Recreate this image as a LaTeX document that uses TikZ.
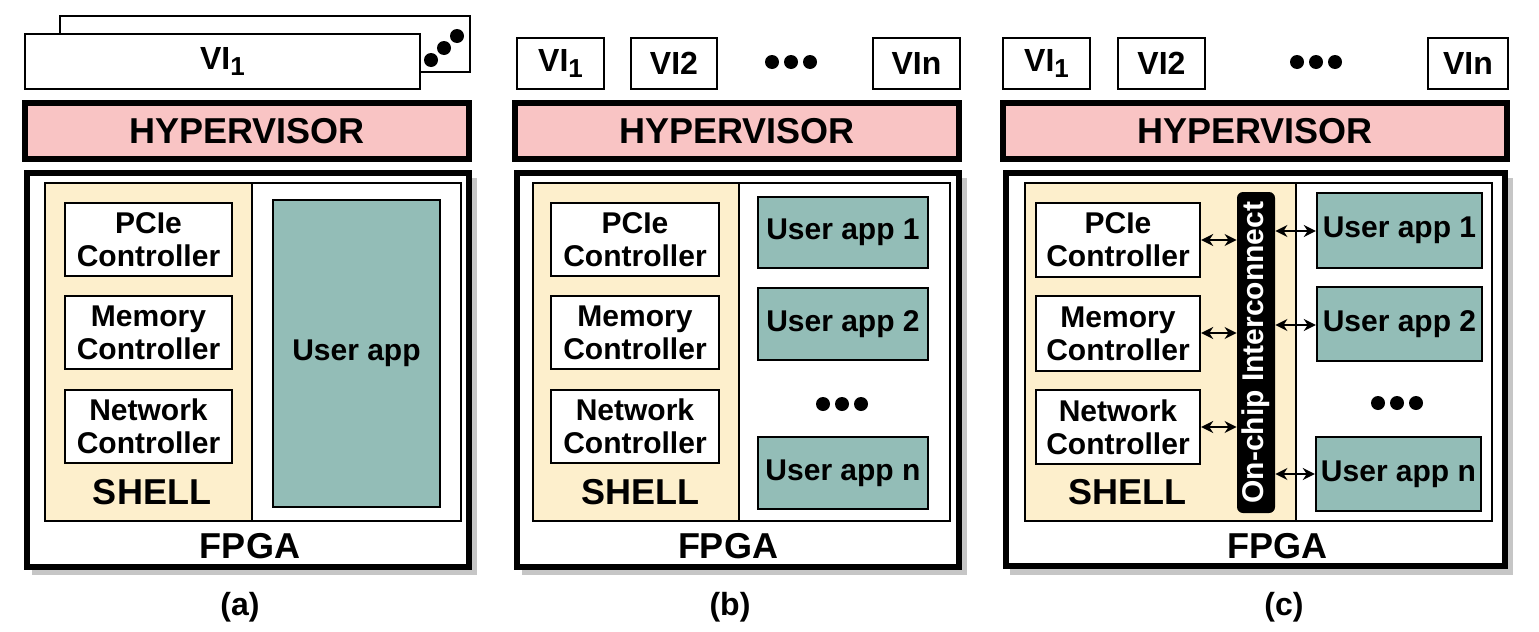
\documentclass[tikz,border=0pt]{standalone}
\usepackage{fontspec}
\setmainfont{Liberation Sans}
\usetikzlibrary{fit,arrows.meta}
\definecolor{hyp}{HTML}{F9C4C4}
\definecolor{shellc}{HTML}{FDEFCC}
\definecolor{appc}{HTML}{93BDB7}
\tikzset{
  thin box/.style={draw=black, line width=1.2pt, inner sep=0pt},
  thick box/.style={draw=black, line width=3.2pt, inner sep=0pt},
  hypbox/.style={thick box, fill=hyp},
  ctrl/.style={thin box, fill=white},
  app/.style={thin box, fill=appc},
  txt/.style={font=\bfseries\fontsize{15}{16.5}\selectfont, align=center},
  big/.style={font=\bfseries\fontsize{18}{19}\selectfont},
  vi/.style={font=\bfseries\fontsize{16}{17}\selectfont},
  dot/.style={circle, fill=black, inner sep=0pt, minimum size=7pt},
  barr/.style={{Stealth[length=6pt,width=6pt]}-{Stealth[length=6pt,width=6pt]}, line width=1pt}
}
\begin{document}
\begin{tikzpicture}[x=0.5pt,y=-0.5pt]
\useasboundingbox (0,0) rectangle (1539,632);
% ================= (a)
\node[thin box, fill=white, fit={(60,16)(470,72)}] (aviback) {};
\node[thin box, fill=white, fit={(25,34)(420,89)}] (avi) {};
\node[vi] (avit) at (avi.center) {VI\raisebox{-0.35ex}{\fontsize{13}{13}\selectfont 1}};
\node[dot] (ad1) at (431,60) {};
\node[dot] (ad2) at (444,48) {};
\node[dot] (ad3) at (457,36) {};
\node[hypbox, fit={(25,103)(469,159)}] (ahyp) {};
\node[big] at (ahyp.center) {HYPERVISOR};
\fill[gray!45] (32,178) rectangle (477,575);
\node[thick box, fill=white, fit={(27,173)(469,567)}] (afpga) {};
\node[thin box, fit={(45,183)(461,521)}] (ainner) {};
\fill[shellc] (46,184) rectangle (252,520);
\draw[line width=1.2pt] (252,183) -- (252,521);
\node[ctrl, fit={(65,203)(232,276)}] (apcie) {};
\node[txt] at (apcie.center) {PCIe\\Controller};
\node[ctrl, fit={(65,296)(232,369)}] (amem) {};
\node[txt] at (amem.center) {Memory\\Controller};
\node[ctrl, fit={(65,390)(232,463)}] (anet) {};
\node[txt] at (anet.center) {Network\\Controller};
\node[big] (ashell) at (152,492) {SHELL};
\node[app, fit={(273,200)(440,507)}] (aapp) {};
\node[txt] at (aapp.center) {User app};
\node[big] (afl) at (250,546) {FPGA};
\node[vi] (acap) at (240,607) {(a)};
% ================= (b)
\node[thin box, fill=white, fit={(517,38)(604,89)}] (bvi1) {};
\node[vi] at (bvi1.center) {VI\raisebox{-0.35ex}{\fontsize{13}{13}\selectfont 1}};
\node[thin box, fill=white, fit={(631,38)(717,89)}] (bvi2) {};
\node[vi] at (bvi2.center) {VI2};
\node[dot] (bd1) at (772,62) {};
\node[dot] (bd2) at (791,62) {};
\node[dot] (bd3) at (810,62) {};
\node[thin box, fill=white, fit={(873,38)(960,89)}] (bvin) {};
\node[vi] at (bvin.center) {VIn};
\node[hypbox, fit={(515,103)(959,159)}] (bhyp) {};
\node[big] at (bhyp.center) {HYPERVISOR};
\fill[gray!45] (522,178) rectangle (967,575);
\node[thick box, fill=white, fit={(517,173)(959,567)}] (bfpga) {};
\node[thin box, fit={(533,183)(950,521)}] (binner) {};
\fill[shellc] (534,184) rectangle (739,520);
\draw[line width=1.2pt] (739,183) -- (739,521);
\node[ctrl, fit={(551,203)(719,276)}] (bpcie) {};
\node[txt] at (bpcie.center) {PCIe\\Controller};
\node[ctrl, fit={(551,296)(719,369)}] (bmem) {};
\node[txt] at (bmem.center) {Memory\\Controller};
\node[ctrl, fit={(551,390)(719,463)}] (bnet) {};
\node[txt] at (bnet.center) {Network\\Controller};
\node[big] (bshell) at (640,492) {SHELL};
\node[app, fit={(758,197)(928,268)}] (bapp1) {};
\node[txt] at (bapp1.center) {User app 1};
\node[app, fit={(758,288)(928,360)}] (bapp2) {};
\node[txt] at (bapp2.center) {User app 2};
\node[dot] (be1) at (823,404) {};
\node[dot] (be2) at (842,404) {};
\node[dot] (be3) at (861,404) {};
\node[app, fit={(758,437)(928,509)}] (bappn) {};
\node[txt] at (bappn.center) {User app n};
\node[big] (bfl) at (728,546) {FPGA};
\node[vi] (bcap) at (730,607) {(b)};
% ================= (c)
\node[thin box, fill=white, fit={(1003,38)(1090,89)}] (cvi1) {};
\node[vi] at (cvi1.center) {VI\raisebox{-0.35ex}{\fontsize{13}{13}\selectfont 1}};
\node[thin box, fill=white, fit={(1118,38)(1205,89)}] (cvi2) {};
\node[vi] at (cvi2.center) {VI2};
\node[dot] (cd1) at (1297,62) {};
\node[dot] (cd2) at (1316,62) {};
\node[dot] (cd3) at (1335,62) {};
\node[thin box, fill=white, fit={(1428,38)(1508,89)}] (cvin) {};
\node[vi] at (cvin.center) {VIn};
\node[hypbox, fit={(1003,103)(1507,159)}] (chyp) {};
\node[big] at (chyp.center) {HYPERVISOR};
\fill[gray!45] (1010,178) rectangle (1513,575);
\node[thick box, fill=white, fit={(1006,173)(1505,566)}] (cfpga) {};
\node[thin box, fit={(1025,183)(1492,521)}] (cinner) {};
\fill[shellc] (1026,184) rectangle (1296,520);
\draw[line width=1.2pt] (1296,183) -- (1296,521);
\node[ctrl, fit={(1036,203)(1200,277)}] (cpcie) {};
\node[txt] at (cpcie.center) {PCIe\\Controller};
\node[ctrl, fit={(1036,296)(1200,371)}] (cmem) {};
\node[txt] at (cmem.center) {Memory\\Controller};
\node[ctrl, fit={(1036,390)(1200,464)}] (cnet) {};
\node[txt] at (cnet.center) {Network\\Controller};
\node[big] (cshell) at (1127,492) {SHELL};
\node[fill=black, rounded corners=3pt, inner sep=0pt, fit={(1237,192)(1275,513)}] (cbar) {};
\node[rotate=90, text=white, font=\bfseries\fontsize{15}{16}\selectfont] at (cbar.center) {On-chip Interconnect};
\node[app, fit={(1317,193)(1482,268)}] (capp1) {};
\node[txt] at (capp1.center) {User app 1};
\node[app, fit={(1317,287)(1482,361)}] (capp2) {};
\node[txt] at (capp2.center) {User app 2};
\node[dot] (ce1) at (1378,403) {};
\node[dot] (ce2) at (1397,403) {};
\node[dot] (ce3) at (1416,403) {};
\node[app, fit={(1316,437)(1481,511)}] (cappn) {};
\node[txt] at (cappn.center) {User app n};
\node[big] (cfl) at (1277,546) {FPGA};
\node[vi] (ccap) at (1284,607) {(c)};
% arrows
\draw[barr] (cpcie.east |- 0,240) -- (cbar.west |- 0,240);
\draw[barr] (cmem.east |- 0,333) -- (cbar.west |- 0,333);
\draw[barr] (cnet.east |- 0,427) -- (cbar.west |- 0,427);
\draw[barr] (cbar.east |- 0,231) -- (capp1.west |- 0,231);
\draw[barr] (cbar.east |- 0,325) -- (capp2.west |- 0,325);
\draw[barr] (cbar.east |- 0,474) -- (cappn.west |- 0,474);
\end{tikzpicture}
\end{document}
